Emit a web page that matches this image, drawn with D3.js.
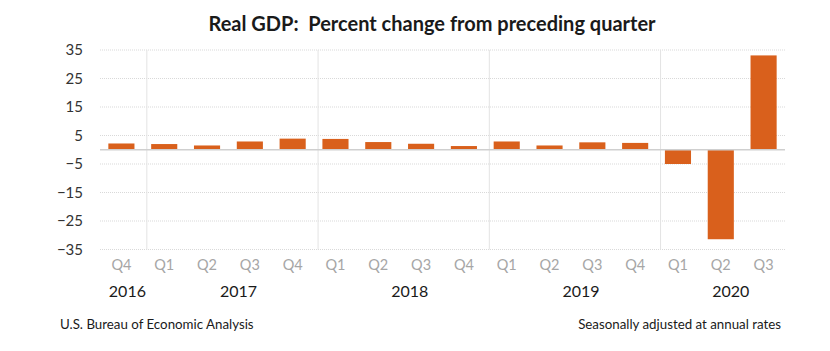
<!DOCTYPE html>
<html>
<head>
<meta charset="utf-8">
<script src="https://cdn.jsdelivr.net/npm/d3@7"></script>
<style>
  body { margin: 0; background: #fff; }
  text { font-family: Lato, "Open Sans", sans-serif; }
</style>
</head>
<body>
<script>
const WIDTH = 830;
const HEIGHT = 351;

// data
var quarters = ['Q4','Q1','Q2','Q3','Q4','Q1','Q2','Q3','Q4','Q1','Q2','Q3','Q4','Q1','Q2','Q3'];
var years = ['2016','2017','2017','2017','2017','2018','2018','2018','2018','2019','2019','2019','2019','2020','2020','2020'];
var growth = [2.2, 2.0, 1.5, 2.9, 3.9, 3.8, 2.7, 2.1, 1.3, 2.9, 1.5, 2.6, 2.4, -5.0, -31.4, 33.1];
var yTicks = [35, 25, 15, 5, -5, -15, -25, -35];

var svg = d3.select('body').append('svg')
    .attr('width', WIDTH)
    .attr('height', HEIGHT);

var idx = d3.range(growth.length);

var xScale = d3.scaleBand()
    .domain(idx)
    .range([100, 785])
    .paddingInner(0.39)
    .paddingOuter(0.195);

var yScale = d3.scaleLinear()
    .domain([-35, 35])
    .range([249.5, 50]);

// title
svg.append('text')
    .attr('x', 432)
    .attr('y', 31)
    .attr('text-anchor', 'middle')
    .attr('font-size', 20)
    .attr('font-weight', 'bold')
    .attr('fill', '#1a1a1a')
    .style('white-space', 'pre')
    .text('Real GDP:  Percent change from preceding quarter');

// horizontal grid
svg.append('g')
    .selectAll('line')
    .data(yTicks)
    .enter()
    .append('line')
    .attr('x1', 100)
    .attr('x2', 785)
    .attr('y1', function (d) { return yScale(d); })
    .attr('y2', function (d) { return yScale(d); })
    .attr('stroke', '#d9d9d9')
    .attr('stroke-width', 1)
    .attr('stroke-dasharray', '1,1');

// year separators
var step = xScale.step();
var firstOfYear = idx.filter(function (i) { return i > 0 && years[i] !== years[i - 1]; });
svg.append('g')
    .selectAll('line')
    .data(firstOfYear)
    .enter()
    .append('line')
    .attr('x1', function (i) { return xScale(i) - xScale.paddingInner() * step / 2 + 4; })
    .attr('x2', function (i) { return xScale(i) - xScale.paddingInner() * step / 2 + 4; })
    .attr('y1', yScale(35))
    .attr('y2', yScale(-35))
    .attr('stroke', '#e3e3e3')
    .attr('stroke-width', 1);

// bars
svg.append('g')
    .selectAll('rect')
    .data(idx)
    .enter()
    .append('rect')
    .attr('x', function (i) { return xScale(i); })
    .attr('width', xScale.bandwidth())
    .attr('y', function (i) { return yScale(Math.max(0, growth[i])); })
    .attr('height', function (i) { return Math.abs(yScale(growth[i]) - yScale(0)); })
    .attr('fill', '#d9601c');

// zero line
svg.append('line')
    .attr('x1', 100)
    .attr('x2', 785)
    .attr('y1', yScale(0))
    .attr('y2', yScale(0))
    .attr('stroke', '#cfcfcf')
    .attr('stroke-width', 1.5);

// y axis
var yAxis = d3.axisLeft(yScale).tickValues(yTicks).tickSize(0).tickPadding(0);
var yg = svg.append('g')
    .attr('transform', 'translate(83,0)')
    .call(yAxis);
yg.select('.domain').remove();
yg.selectAll('text')
    .attr('font-size', 15)
    .attr('font-family', 'Lato, sans-serif')
    .attr('fill', '#333');

// quarter labels
var xAxis = d3.axisBottom(xScale).tickFormat(function (i) { return quarters[i]; }).tickSize(0).tickPadding(0);
var xg = svg.append('g')
    .attr('transform', 'translate(0,260)')
    .call(xAxis);
xg.select('.domain').remove();
xg.selectAll('text')
    .attr('font-size', 14.5)
    .attr('font-family', 'Lato, sans-serif')
    .attr('fill', '#a6a6a6');

// year labels
var yearNames = Array.from(new Set(years));
svg.append('g')
    .selectAll('text')
    .data(yearNames)
    .enter()
    .append('text')
    .attr('x', function (y) {
        var members = idx.filter(function (i) { return years[i] === y; });
        var mid = (xScale(members[0]) + xScale(members[members.length - 1])) / 2 + xScale.bandwidth() / 2;
        return mid + (members.length > 1 ? 10 : 6);
    })
    .attr('y', 297)
    .attr('text-anchor', 'middle')
    .attr('font-size', 16)
    .attr('fill', '#1a1a1a')
    .text(function (y) { return y; });

// footer
svg.append('text')
    .attr('x', 60)
    .attr('y', 328.5)
    .attr('font-size', 13.3)
    .attr('fill', '#1a1a1a')
    .text('U.S. Bureau of Economic Analysis');

svg.append('text')
    .attr('x', 781)
    .attr('y', 328.5)
    .attr('text-anchor', 'end')
    .attr('font-size', 13.3)
    .attr('fill', '#1a1a1a')
    .text('Seasonally adjusted at annual rates');
</script>
</body>
</html>
